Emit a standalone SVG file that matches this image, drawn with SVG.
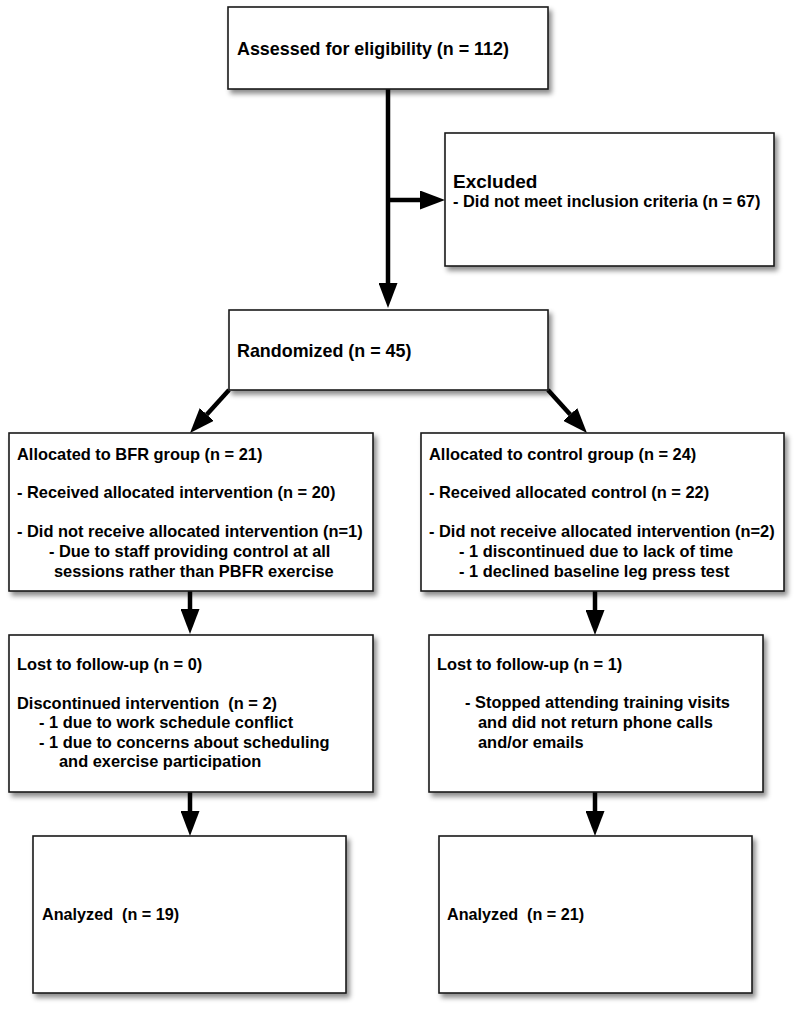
<svg xmlns="http://www.w3.org/2000/svg" width="800" height="1009" viewBox="0 0 800 1009">
<defs>
<filter id="sh" x="-10%" y="-10%" width="130%" height="130%">
<feDropShadow dx="3" dy="4" stdDeviation="2.5" flood-color="#000" flood-opacity="0.45"/>
</filter>
<marker id="ah" viewBox="0 0 25 19" markerWidth="25" markerHeight="19" refX="0" refY="9.5" orient="auto" markerUnits="userSpaceOnUse">
<path d="M0,0 L25,9.5 L0,19 z" fill="#000"/>
</marker>
</defs>
<style>
.box{fill:#fff;stroke:#1a1a1a;stroke-width:1.6;filter:url(#sh)}
text{font-family:"Liberation Sans",Arial,Helvetica,sans-serif;font-weight:bold;fill:#000;white-space:pre}
.t{font-size:16.4px}
.big{font-size:17.9px}
.h{font-size:19px}
.a{font-size:16.2px}
.conn line{stroke:#000;stroke-width:4.5;marker-end:url(#ah)}
</style>
<rect width="800" height="1009" fill="#fff"/>
<g class="conn" id="connectors">
<line x1="388" y1="89" x2="388" y2="283"/>
<line x1="388" y1="200" x2="420" y2="200"/>
<line x1="229" y1="390" x2="206.8" y2="414.5"/>
<line x1="548" y1="390" x2="570.2" y2="414.5"/>
<line x1="190" y1="591" x2="190" y2="609"/>
<line x1="595" y1="591" x2="595" y2="610"/>
<line x1="190" y1="792" x2="190" y2="811"/>
<line x1="595" y1="792" x2="595" y2="811"/>
</g>
<g id="assessed">
<rect class="box" x="228" y="7" width="320" height="82"/>
<text class="big" x="237" y="55">Assessed for eligibility (n = 112)</text>
</g>
<g id="excluded">
<rect class="box" x="445" y="133" width="329" height="133"/>
<text class="h" x="453" y="188">Excluded</text>
<text class="t" x="453" y="207">- Did not meet inclusion criteria (n = 67)</text>
</g>
<g id="randomized">
<rect class="box" x="229" y="310" width="319" height="80"/>
<text class="big" x="237" y="357">Randomized (n = 45)</text>
</g>
<g id="alloc-bfr">
<rect class="box" x="9" y="433" width="364" height="158"/>
<text class="t" x="17" y="460">Allocated to BFR group (n = 21)</text>
<text class="t" x="17" y="498">- Received allocated intervention (n = 20)</text>
<text class="t" x="17" y="537">- Did not receive allocated intervention (n=1)</text>
<text class="t" x="49" y="557">- Due to staff providing control at all</text>
<text class="t" x="54" y="577">sessions rather than PBFR exercise</text>
</g>
<g id="alloc-control">
<rect class="box" x="421" y="433" width="363" height="158"/>
<text class="t" x="429" y="460">Allocated to control group (n = 24)</text>
<text class="t" x="429" y="498">- Received allocated control (n = 22)</text>
<text class="t" x="429" y="537">- Did not receive allocated intervention (n=2)</text>
<text class="t" x="459" y="557">- 1 discontinued due to lack of time</text>
<text class="t" x="459" y="577">- 1 declined baseline leg press test</text>
</g>
<g id="lost-bfr">
<rect class="box" x="9" y="635" width="364" height="157"/>
<text class="t" x="17" y="670">Lost to follow-up (n = 0)</text>
<text class="t" x="17" y="709">Discontinued intervention  (n = 2)</text>
<text class="t" x="39" y="728">- 1 due to work schedule conflict</text>
<text class="t" x="39" y="748">- 1 due to concerns about scheduling</text>
<text class="t" x="59" y="767">and exercise participation</text>
</g>
<g id="lost-control">
<rect class="box" x="429" y="635" width="334" height="157"/>
<text class="t" x="437" y="670">Lost to follow-up (n = 1)</text>
<text class="t" x="465" y="708">- Stopped attending training visits</text>
<text class="t" x="478" y="728">and did not return phone calls</text>
<text class="t" x="478" y="748">and/or emails</text>
</g>
<g id="analyzed-bfr">
<rect class="box" x="33" y="836" width="313" height="157"/>
<text class="a" x="42" y="920">Analyzed  (n = 19)</text>
</g>
<g id="analyzed-control">
<rect class="box" x="439" y="836" width="313" height="157"/>
<text class="a" x="447" y="920">Analyzed  (n = 21)</text>
</g>
</svg>
